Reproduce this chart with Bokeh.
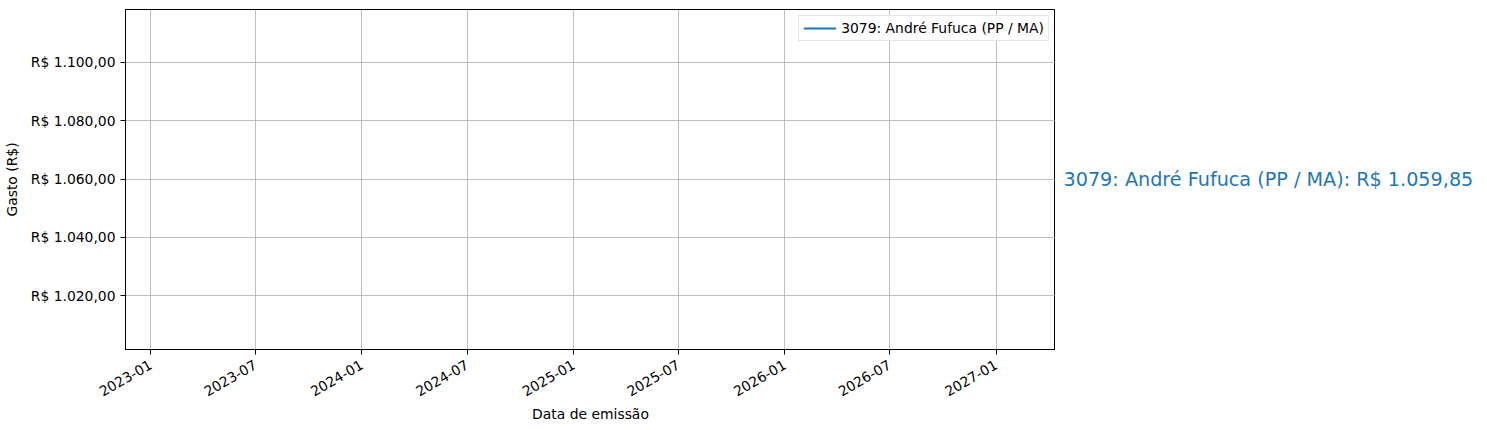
from datetime import datetime, timedelta

from bokeh.core.properties import value
from bokeh.embed import file_html
from bokeh.layouts import row
from bokeh.models import (
    CustomJSTickFormatter,
    DatetimeTickFormatter,
    MonthsTicker,
    Range1d,
    SingleIntervalTicker,
)
from bokeh.plotting import figure
from bokeh.resources import INLINE

# Data: one deputy, one expense
deputados = ["3079: André Fufuca (PP / MA)"]
datas = [datetime(2025, 1, 30)]
gastos = [1059.85]

FONT = "DejaVu Sans"
BLUE = "#1f77b4"


def brl(v):
    s = f"{v:,.2f}".replace(",", "X").replace(".", ",").replace("X", ".")
    return "R$ " + s


# matplotlib-like limits for a single point (+-2 years / +-5%, then 5% margin)
x_mid = datas[0]
x_half = timedelta(days=365.25 * 2 * 1.1)
y_half = abs(gastos[0]) * 0.05 * 1.1
y_range = Range1d(gastos[0] - y_half, gastos[0] + y_half)

TOP, BOTTOM, FRAME_H = 9, 70, 340

p = figure(
    frame_width=930,
    frame_height=FRAME_H,
    min_border_left=119,
    min_border_right=0,
    min_border_top=TOP,
    min_border_bottom=BOTTOM,
    x_axis_type="datetime",
    x_range=Range1d(x_mid - x_half, x_mid + x_half),
    y_range=y_range,
    output_backend="svg",
    toolbar_location=None,
)

p.line(x=datas, y=gastos, legend_label=deputados[0], color=BLUE, line_width=2)

# axes
p.xaxis.ticker = MonthsTicker(months=[0, 6])
p.xaxis.formatter = DatetimeTickFormatter(months="%Y-%m", years="%Y-%m", days="%Y-%m")
p.xaxis.major_label_orientation = 0.5236
p.yaxis.ticker = SingleIntervalTicker(interval=20)
p.yaxis.formatter = CustomJSTickFormatter(
    code="""
    const parts = tick.toFixed(2).split(".");
    return "R$ " + parts[0].replace(/\\B(?=(\\d{3})+(?!\\d))/g, ".") + "," + parts[1];
    """
)
p.xaxis.axis_label = "Data de emissão"
p.yaxis.axis_label = "Gasto (R$)"
for ax in (p.xaxis, p.yaxis):
    ax.axis_label_text_font = FONT
    ax.axis_label_text_font_size = "13.9px"
    ax.axis_label_text_font_style = "normal"
    ax.axis_label_text_color = "black"
    ax.major_label_text_font = FONT
    ax.major_label_text_font_size = "13.9px"
    ax.major_label_text_color = "black"
    ax.axis_line_color = "black"
    ax.major_tick_line_color = "black"
    ax.major_tick_out = 5
    ax.major_tick_in = 0
    ax.minor_tick_line_color = None
p.xaxis.major_label_standoff = 9
p.xaxis.axis_label_standoff = 2
p.yaxis.axis_label_standoff = 8

p.outline_line_color = "black"
p.outline_line_alpha = 1
p.grid.grid_line_color = "#b0b0b0"
p.grid.grid_line_width = 0.8

# legend
p.legend.location = "top_right"
p.legend.label_text_font = FONT
p.legend.label_text_font_size = "13.9px"
p.legend.label_text_color = "black"
p.legend.label_height = 16
p.legend.glyph_height = 16
p.legend.border_line_color = "#cccccc"
p.legend.glyph_width = 33
p.legend.padding = 4
p.legend.margin = 6

# value text to the right of the axes: a bare figure sharing the y range
side = figure(
    frame_width=422,
    frame_height=FRAME_H,
    min_border_left=0,
    min_border_right=0,
    min_border_top=TOP,
    min_border_bottom=BOTTOM,
    x_range=Range1d(0, 1),
    y_range=y_range,
    output_backend="svg",
    toolbar_location=None,
)
side.axis.visible = False
side.grid.visible = False
side.outline_line_color = None
side.text(
    x=[0],
    y=gastos,
    text=[f"{d}: {brl(g)}" for d, g in zip(deputados, gastos)],
    x_offset=8,
    text_color=BLUE,
    text_font=value(FONT),
    text_font_size="19.2px",
    text_baseline="middle",
)

open("out.html", "w").write(file_html(row(p, side), INLINE))
